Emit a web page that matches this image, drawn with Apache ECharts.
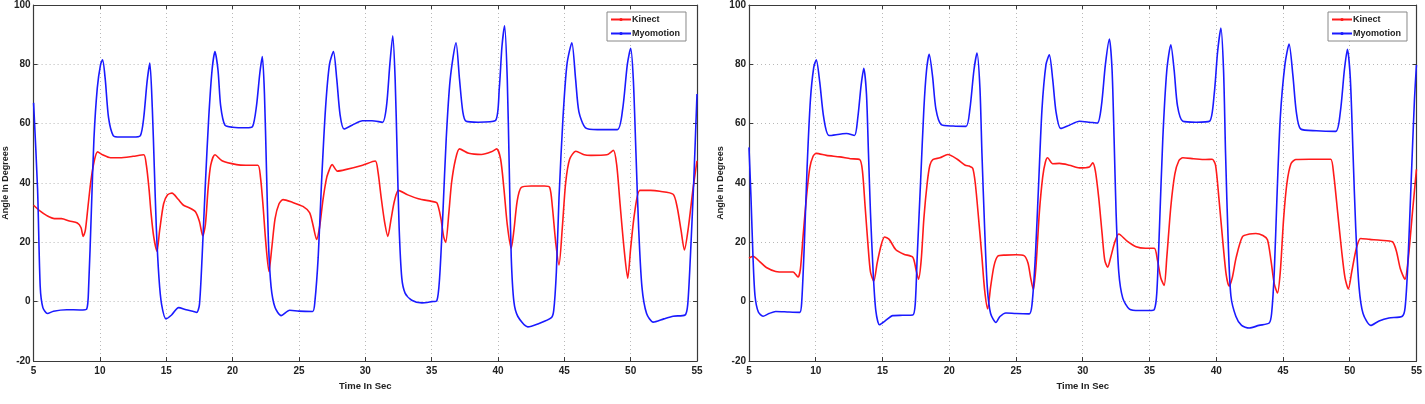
<!DOCTYPE html>
<html>
<head>
<meta charset="utf-8">
<script src="https://cdn.jsdelivr.net/npm/echarts@6/dist/echarts.min.js"></script>
<style>
  html, body { margin: 0; padding: 0; background: #fff; }
  #chart { width: 1425px; height: 404px; }
</style>
</head>
<body>
<div id="chart"></div>
<script>
// [time in sec, angle in degrees]
const leftKinect = [
  [5,32.5],[5.5,30.5],[6,29],[6.57,28],[7.1,28],[7.7,27.2],[8.3,26.5],[8.57,25],[8.74,22],[8.9,24],
  [9.1,32],[9.3,40],[9.55,47],[9.82,50.5],[10.2,49.5],[10.8,48.5],[11.5,48.5],[12.5,49],[13.3,49.5],[13.5,46],
  [13.7,38],[13.85,30],[14.05,22],[14.3,17],[14.5,24],[14.8,33],[15.1,36],[15.43,36.6],[15.9,34.5],[16.3,32.5],
  [16.8,31.5],[17.2,30.3],[17.5,27],[17.75,22.2],[17.95,26],[18.15,38],[18.35,46],[18.67,49.5],[19.2,47.5],[20.3,46.2],
  [21,46],[21.9,46],[22.1,42],[22.3,32],[22.5,20],[22.74,10.2],[22.95,18],[23.2,28],[23.5,33],[23.8,34.4],
  [24.5,33.5],[25.3,32.1],[25.8,30],[26.05,26],[26.33,21],[26.55,25],[26.8,34],[27.05,41],[27.2,43.4],[27.5,46.2],
  [27.9,44],[28.5,44.5],[29.8,46],[30.75,47.4],[30.95,44],[31.2,35],[31.45,27],[31.7,22],[31.95,28],[32.2,34],
  [32.5,37.5],[33.2,36],[34,34.7],[35,33.8],[35.4,33.3],[35.7,28],[35.9,22],[36.06,20],[36.3,30],[36.5,40],
  [36.8,48],[37.1,51.5],[37.8,50],[38.75,49.6],[39.5,50.5],[39.9,51.5],[40.2,48],[40.45,38],[40.7,26],[41,18],
  [41.2,24],[41.45,34],[41.75,38.5],[42.5,39],[43.5,39],[43.9,38.5],[44.1,32],[44.35,20],[44.6,12.4],[44.85,25],
  [45.1,40],[45.4,48],[45.87,50.7],[46.5,49.5],[47,49.3],[48.2,49.5],[48.7,51],[48.95,46],[49.2,33],[49.5,18],
  [49.78,7.9],[50,18],[50.3,30],[50.7,37.5],[51.5,37.5],[52.2,37.2],[53.2,36.2],[53.5,32],[53.8,24],[54.05,17.4],
  [54.35,25],[54.7,38],[55,47.5]
];
const leftMyo = [
  [5,67],[5.3,38],[5.5,5],[5.7,-2],[6.05,-4],[6.5,-3.2],[7.5,-2.7],[8.5,-2.8],[9,-2.5],[9.15,5],
  [9.35,30],[9.55,55],[9.8,72],[10.05,80],[10.2,81.5],[10.4,75],[10.65,62],[11,56],[11.5,55.5],[12.5,55.5],
  [13.05,56],[13.3,62],[13.55,74],[13.76,80.4],[13.95,65],[14.1,45],[14.25,25],[14.45,8],[14.65,-1],[14.98,-5.8],
  [15.4,-4.5],[15.93,-2],[16.5,-2.7],[17,-3.2],[17.3,-3.6],[17.5,-1],[17.7,15],[17.95,40],[18.2,62],[18.45,78],
  [18.67,84.3],[18.9,78],[19.1,66],[19.42,59.5],[20,58.8],[21,58.6],[21.5,59],[21.8,66],[22.05,77],[22.24,82.6],
  [22.4,70],[22.55,45],[22.7,20],[22.9,5],[23.2,-2],[23.66,-4.7],[24.3,-2.9],[25,-3.2],[26.03,-3.3],[26.2,0],
  [26.45,15],[26.7,40],[27,65],[27.3,80],[27.6,84.3],[27.85,75],[28.1,63],[28.4,58.2],[29,59.5],[29.8,61],
  [30.5,61],[31.3,60.5],[31.6,66],[31.85,80],[32.07,89.6],[32.25,75],[32.4,50],[32.55,25],[32.75,8],[33,2.9],
  [33.5,0.5],[34.27,-0.4],[35,0],[35.39,0.3],[35.6,8],[35.85,30],[36.1,55],[36.4,75],[36.84,87.3],[37.1,75],
  [37.35,64],[37.6,60.8],[38.5,60.5],[39.8,61],[40.1,72],[40.3,86],[40.5,93],[40.7,75],[40.85,45],[41,15],
  [41.2,0],[41.5,-5],[42.25,-8.5],[43,-7.5],[44,-5.5],[44.2,-3],[44.4,10],[44.6,35],[44.9,62],[45.2,80],
  [45.57,87.3],[45.85,75],[46.1,64],[46.6,58.6],[47.5,58],[49,58],[49.4,65],[49.75,80],[50,85.4],[50.2,75],
  [50.4,50],[50.6,25],[50.85,5],[51.2,-4],[51.7,-6.9],[52.5,-5.8],[53.2,-4.9],[54.1,-4.5],[54.3,-1],[54.5,15],
  [54.75,40],[55,70]
];
const rightKinect = [
  [5,14.7],[5.3,15.3],[5.8,13.5],[6.3,11.5],[7,10.2],[7.7,10],[8.3,10],[8.67,8.3],[8.85,11],[9.05,22],
  [9.3,35],[9.55,45],[9.8,49],[10.04,50],[10.8,49.3],[11.8,48.8],[12.6,48.2],[13.3,47.9],[13.5,44],[13.7,32],
  [13.9,20],[14.1,10],[14.35,6.9],[14.6,13],[14.9,19],[15.15,21.8],[15.5,21],[16,17.5],[16.6,16],[17.27,15],
  [17.5,11],[17.7,7.6],[17.9,14],[18.1,28],[18.35,40],[18.55,46],[18.77,47.9],[19.3,48.5],[19.9,49.6],[20.6,48],
  [21.2,46],[21.5,45.7],[21.76,45],[21.95,40],[22.2,28],[22.45,15],[22.65,4],[22.88,-2.4],[23.1,5],[23.35,12],
  [23.63,15.3],[24.2,15.7],[25,15.8],[25.6,15.5],[25.9,13],[26.1,8],[26.3,4],[26.5,12],[26.75,30],[27,42],
  [27.2,47],[27.37,48.5],[27.75,46.5],[28.25,46.6],[29,46],[29.75,45.1],[30.5,45.4],[30.75,46.8],[30.95,44],[31.2,35],
  [31.45,23],[31.65,14],[31.87,11.6],[32.1,15],[32.4,20],[32.7,22.8],[33.3,20.5],[34,18.5],[34.7,18],[35.36,18],
  [35.6,14],[35.85,8],[36.1,5.5],[36.3,15],[36.6,32],[36.9,43],[37.2,47.5],[37.5,48.5],[38.3,48.2],[39.2,47.9],
  [39.7,48],[39.95,46],[40.2,35],[40.5,20],[40.75,9],[40.97,5.2],[41.2,8],[41.5,15],[41.97,21.9],[42.5,22.8],
  [42.97,23],[43.5,22.3],[43.84,20.9],[44.1,14],[44.35,6],[44.59,2.9],[44.8,10],[45.05,28],[45.3,40],[45.6,46.5],
  [45.96,47.9],[47,48],[48,48],[48.58,48],[48.8,43],[49.1,30],[49.4,17],[49.65,8],[49.9,4.3],[50.15,10],
  [50.5,18],[50.82,21.3],[51.5,21],[52.3,20.7],[53.2,20.2],[53.5,17],[53.8,11],[54.14,7.6],[54.4,15],[54.7,30],
  [55,44.6]
];
const rightMyo = [
  [5,52],[5.15,35],[5.3,15],[5.45,2],[5.7,-3.5],[6.05,-4.9],[6.5,-4],[7,-3.3],[8,-3.5],[8.8,-3.6],
  [8.95,0],[9.15,20],[9.35,45],[9.6,68],[9.85,79],[10.04,81.5],[10.3,74],[10.6,62],[11,56],[12.3,56.7],
  [12.9,56],[13.15,62],[13.4,73],[13.6,78.7],[13.8,70],[13.95,50],[14.1,30],[14.3,10],[14.5,-3],[14.78,-7.8],
  [15.2,-6.5],[15.77,-4.7],[16.5,-4.6],[17.27,-4.5],[17.45,-1],[17.6,15],[17.85,40],[18.1,65],[18.3,78],[18.5,83.4],
  [18.75,76],[19,65],[19.4,59.7],[20.3,59.2],[21.26,59.1],[21.55,65],[21.85,78],[22.08,83.8],[22.3,72],[22.45,50],
  [22.65,25],[22.85,5],[23.1,-4],[23.5,-7],[23.8,-5],[24.25,-3.8],[25,-4],[26,-4.1],[26.2,-1],[26.45,15],
  [26.7,40],[26.95,65],[27.25,80],[27.5,83.2],[27.75,75],[28,64],[28.35,58.4],[29,59.5],[29.75,60.8],[30.5,60.5],
  [31.1,60.2],[31.4,66],[31.7,80],[32,88.5],[32.2,78],[32.35,55],[32.5,30],[32.7,10],[33,1.2],[33.5,-2.5],
  [34.24,-3],[35,-3],[35.36,-2.7],[35.55,3],[35.75,25],[36,55],[36.3,78],[36.6,86.6],[36.85,78],[37.1,66],
  [37.5,60.8],[38.5,60.5],[39.5,60.8],[39.85,70],[40.1,84],[40.35,92.2],[40.55,78],[40.7,50],[40.9,20],[41.1,2],
  [41.47,-4.9],[41.9,-8],[42.47,-8.9],[43.2,-8],[43.97,-7.2],[44.15,-4],[44.35,10],[44.55,35],[44.8,62],[45.15,80],
  [45.46,86.8],[45.75,76],[46,64],[46.33,58.2],[47.5,57.6],[48.95,57.4],[49.3,64],[49.6,78],[49.83,85.1],[50.05,75],
  [50.25,50],[50.45,25],[50.7,5],[51,-4],[51.57,-8],[52.2,-6.5],[52.94,-5.5],[53.94,-4.9],[54.15,-2],[54.35,12],
  [54.6,40],[54.85,68],[55,79.8]
];
const seriesNames = ['Kinect', 'Myomotion'];
const xTicks = { min: 5, max: 55, interval: 5 };
const yTicks = { min: -20, max: 100, interval: 20 };

const FONT = 'Liberation Sans, Arial, sans-serif';
const FRAME = { show: true, onZero: false, lineStyle: { color: '#3a3a3a', width: 1.2 } };
const TICK = { show: true, inside: true, length: 4, lineStyle: { color: '#3a3a3a' } };
const GRIDLINE = { show: true, lineStyle: { color: '#b8b8b8', type: [1, 3], width: 1 } };
const LABEL = { color: '#222', fontFamily: FONT, fontWeight: 'bold', fontSize: 10 };

const xAxes = []
const yAxes = []
;[0, 1].forEach((g) => {
  // 下边 x 轴 + 上边框
  xAxes.push({
    gridIndex: g, type: 'value', ...xTicks, position: 'bottom',
    name: 'Time In Sec', nameLocation: 'middle', nameGap: 14,
    nameTextStyle: { ...LABEL, fontSize: 9.5 },
    axisLine: FRAME, axisTick: TICK, splitLine: GRIDLINE,
    axisLabel: { ...LABEL, margin: 5 },
  })
  xAxes.push({
    gridIndex: g, type: 'value', ...xTicks, position: 'top',
    axisLine: FRAME, axisTick: TICK, splitLine: { show: false }, axisLabel: { show: false },
  })
  // 左边 y 轴 + 右边框
  yAxes.push({
    gridIndex: g, type: 'value', ...yTicks, position: 'left',
    name: 'Angle In Degrees', nameLocation: 'middle', nameGap: 19, nameRotate: 90,
    nameTextStyle: { ...LABEL, fontSize: 9 },
    axisLine: FRAME, axisTick: TICK, splitLine: GRIDLINE,
    axisLabel: { ...LABEL, margin: 3 },
  })
  yAxes.push({
    gridIndex: g, type: 'value', ...yTicks, position: 'right',
    axisLine: FRAME, axisTick: TICK, splitLine: { show: false }, axisLabel: { show: false },
  })
})

const line = (name, data, g, color) => ({
  name, type: 'line', data,
  xAxisIndex: g * 2, yAxisIndex: g * 2,
  showSymbol: false, symbol: 'circle', symbolSize: 3, smooth: 0.25,
  lineStyle: { color, width: 1.6 },
  itemStyle: { color },
})

const legend = (left) => ({
  data: seriesNames, orient: 'vertical', left, top: 12,
  backgroundColor: '#fff', borderColor: '#888', borderWidth: 1, borderRadius: 0,
  padding: [3, 6, 3, 3], itemGap: 5, itemWidth: 20, itemHeight: 4,
  textStyle: { ...LABEL, fontSize: 9, padding: [0, 0, 0, -4] },
})

const chart = echarts.init(document.getElementById('chart'))
chart.setOption({
  animation: false,
  backgroundColor: '#fff',
  grid: [
    { left: 29, right: 728, top: 5, bottom: 43 },
    { left: 749, right: 7, top: 5, bottom: 43 },
  ],
  legend: [legend(607), legend(1328)],
  xAxis: xAxes,
  yAxis: yAxes,
  series: [
    line(seriesNames[0], leftKinect, 0, '#ff1a1a'),
    line(seriesNames[1], leftMyo, 0, '#1a1aff'),
    line(seriesNames[0], rightKinect, 1, '#ff1a1a'),
    line(seriesNames[1], rightMyo, 1, '#1a1aff'),
  ],
})
</script>
</body>
</html>
